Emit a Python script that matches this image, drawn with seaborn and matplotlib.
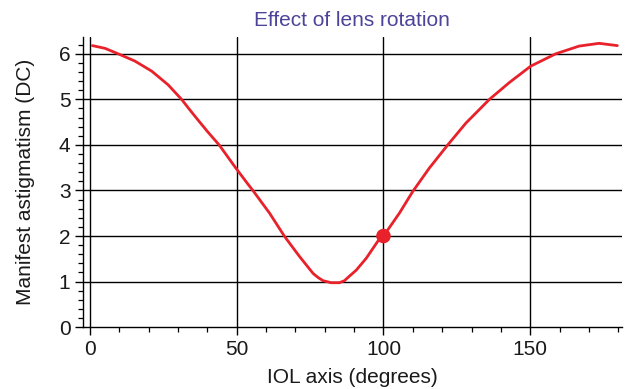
import matplotlib
matplotlib.use("Agg")
import matplotlib.pyplot as plt
import seaborn as sns
import pandas as pd
from matplotlib.ticker import MultipleLocator

# IOL axis (degrees) and resulting manifest astigmatism (DC)
iol_axis = [0.8, 5.1, 9.6, 15.3, 21, 26.6, 31.2, 34, 37, 40.2, 44, 49.7,
            53.8, 55.5, 61.2, 66.3, 71.4, 76, 77.7, 79.4, 82.2, 85, 86.7,
            88.4, 90.7, 94.1, 98, 100, 105.4, 110, 115.6, 121.9, 128.1,
            136.1, 142.9, 150.2, 158.7, 166.7, 173.5, 179.7]
astigmatism = [6.18, 6.12, 6.0, 5.84, 5.62, 5.32, 5.0, 4.77, 4.53, 4.28,
               4.0, 3.49, 3.14, 3.0, 2.5, 1.99, 1.55, 1.18, 1.09, 1.02,
               0.975, 0.975, 1.02, 1.12, 1.25, 1.51, 1.88, 2.0, 2.5, 2.98,
               3.49, 4.0, 4.48, 5.0, 5.37, 5.73, 6.0, 6.17, 6.23, 6.18]
current_axis = [100]
current_astig = [2.0]

x_ticks = [0, 50, 100, 150]
y_ticks = [0, 1, 2, 3, 4, 5, 6]

sns.set_theme(style="white")
plt.rcParams["font.family"] = ["Liberation Sans", "DejaVu Sans"]

red = "#e8212b"
ink = "#1a1a1a"
curve = pd.DataFrame({"axis": iol_axis, "astig": astigmatism})
point = pd.DataFrame({"axis": current_axis, "astig": current_astig})

fig = plt.figure(figsize=(6.25, 3.89), dpi=100)
ax = fig.add_axes([0.1328, 0.159, 0.862, 0.746])

# grid lines
for yv in y_ticks[1:]:
    ax.axhline(yv, color="black", lw=1.0, zorder=1)
for xv in x_ticks:
    ax.axvline(xv, color="black", lw=1.0, zorder=1)

sns.lineplot(data=curve, x="axis", y="astig", ax=ax, color=red, lw=2.0,
             solid_joinstyle="round", solid_capstyle="round", zorder=3)
sns.scatterplot(data=point, x="axis", y="astig", ax=ax, color=red, s=110,
                edgecolor="none", zorder=4)

ax.set_xlim(-2.4, 181.2)
ax.set_ylim(0, 6.37)
ax.set_xticks(x_ticks)
ax.set_yticks(y_ticks)
ax.xaxis.set_minor_locator(MultipleLocator(10))
ax.yaxis.set_minor_locator(MultipleLocator(0.2))

for s in ["top", "right"]:
    ax.spines[s].set_visible(False)
for s in ["left", "bottom"]:
    ax.spines[s].set_color("black")
    ax.spines[s].set_linewidth(1.0)

ax.tick_params(axis="both", which="major", direction="out", length=6,
               width=1.0, color="black", labelsize=15, labelcolor=ink,
               bottom=True, left=True, pad=3)
ax.tick_params(axis="both", which="minor", direction="out", length=3.5,
               width=0.9, color="black", bottom=True, left=True)

ax.set_xlabel("IOL axis (degrees)", fontsize=15, color=ink, labelpad=7)
ax.set_ylabel("Manifest astigmatism (DC)", fontsize=15, color=ink,
              labelpad=17)
ax.set_title("Effect of lens rotation", fontsize=15, color="#4b449a", pad=8)

fig.savefig("out.png", dpi=100)
